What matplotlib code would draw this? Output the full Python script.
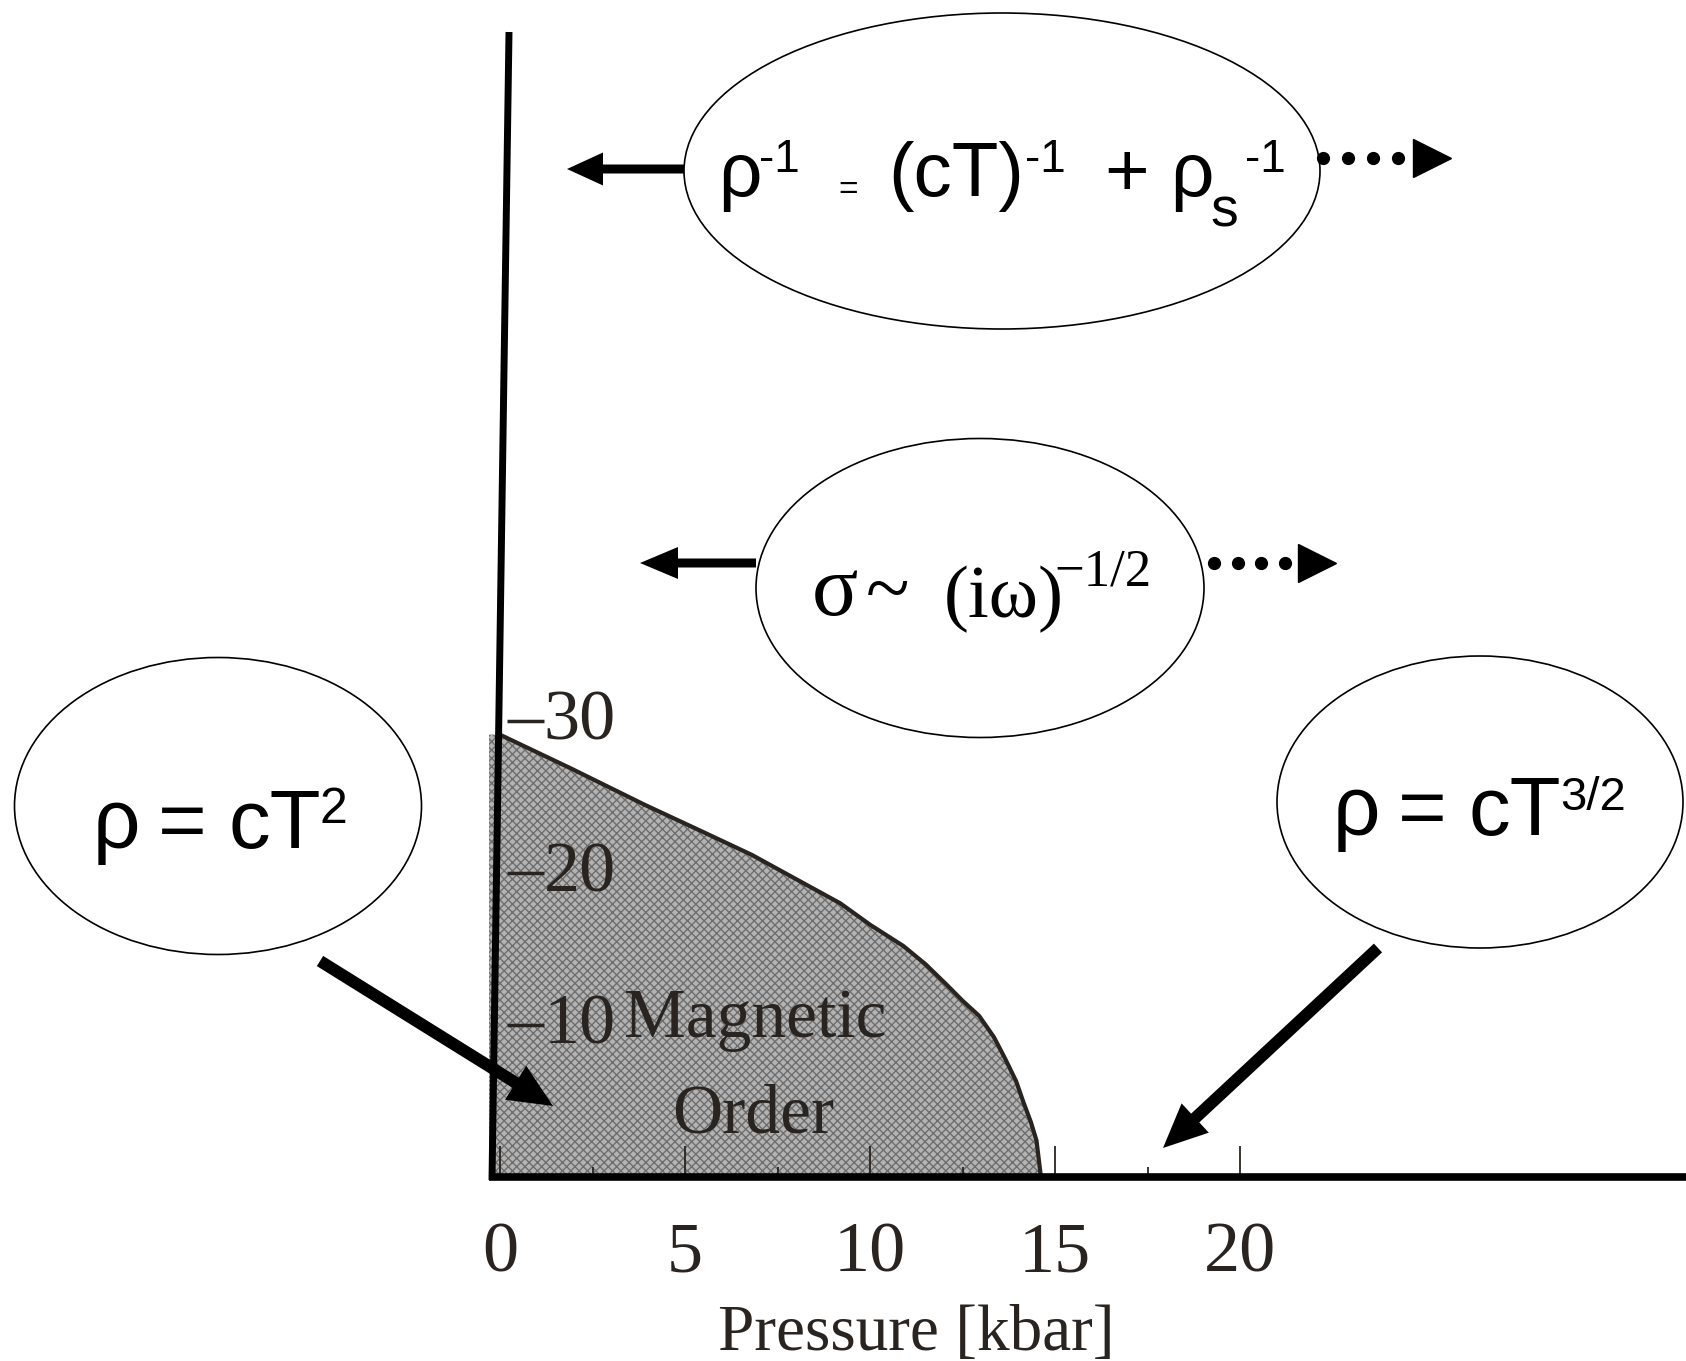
import numpy as np
import matplotlib
matplotlib.use('Agg')
import matplotlib.pyplot as plt
from matplotlib.patches import Ellipse

# phase boundary of the magnetic order
pressure = [0.0, 1.9, 3.9, 5.4, 6.8, 8.0, 9.2, 10.0, 10.9, 11.5, 12.05,
            12.5, 12.95, 13.35, 13.65, 13.95, 14.15, 14.35, 14.5, 14.56, 14.62]
t_order = [29.1, 26.9, 24.5, 22.8, 21.2, 19.6, 18.0, 16.6, 15.2, 14.0, 12.7,
           11.6, 10.6, 9.2, 7.8, 6.3, 4.9, 3.6, 2.4, 1.2, 0.0]
x_ticks = [0, 5, 10, 15, 20]
x_minor = [2.5, 7.5, 12.5, 17.5]
y_ticks = [10, 20, 30]

W, H = 1686, 1361
ink = '#2a2420'
serif = 'Liberation Serif'
sans = 'Liberation Sans'

fig = plt.figure(figsize=(W / 100, H / 100), dpi=100)

# inset: P -> 500 + 37*P px, T -> 1177 - 15.2*T px
p0, p1, t1 = -0.3, 20.0, 33.0
left, right = 500 + 37 * p0, 500 + 37 * p1
bot, top = 1177, 1177 - 15.2 * t1
ax = fig.add_axes([left / W, 1 - bot / H, (right - left) / W, (bot - top) / H])
ax.set_xlim(p0, p1)
ax.set_ylim(0, t1)
for s in ax.spines.values():
    s.set_visible(False)
ax.patch.set_alpha(0)

plt.rcParams['hatch.linewidth'] = 1.0
px = np.r_[p0, pressure]
pt = np.r_[t_order[0], t_order]
ax.fill_between(px, pt, 0, facecolor='#b3b3b3', hatch='xxxx', edgecolor='#6e6e6e', linewidth=0)
ax.plot(pressure, t_order, color=ink, lw=3, solid_joinstyle='round')

ax.set_xticks(x_ticks)
ax.set_xticks(x_minor, minor=True)
ax.set_xticklabels([str(v) for v in x_ticks], family=serif, fontsize=52, color=ink)
ax.tick_params(axis='x', which='major', direction='in', length=22, width=1.3, color=ink, pad=32)
ax.tick_params(axis='x', which='minor', direction='in', length=7, width=1.3, color=ink)
ax.set_yticks([])

ax.hlines(y_ticks, 0.2, 1.2, color=ink, lw=2.5)
for v in y_ticks:
    ax.text(2.15, v - 1.2, str(v), family=serif, fontsize=52, color=ink, ha='center', va='baseline')
ax.text(6.9, 9.2, 'Magnetic', family=serif, fontsize=50, color=ink, ha='center', va='baseline')
ax.text(6.85, 2.9, 'Order', family=serif, fontsize=50, color=ink, ha='center', va='baseline')
ax.text(11.25, -11.4, 'Pressure [kbar]', family=serif, fontsize=47, color=ink, ha='center', va='baseline')

# overlay in pixel units
ov = fig.add_axes([0, 0, 1, 1])
ov.set_xlim(0, W)
ov.set_ylim(H, 0)
ov.axis('off')

ov.plot([509, 492], [32, 1180], color='black', lw=5, solid_capstyle='butt')
ov.plot([489, W], [1177, 1177], color='black', lw=5.5, solid_capstyle='butt')

for (cx, cy, w, h) in [(1002, 171, 636, 316), (980, 588, 448, 299),
                       (218, 806, 407, 297), (1480, 802, 406, 292)]:
    ov.add_patch(Ellipse((cx, cy), w, h, facecolor='white', edgecolor='black', lw=1.2, zorder=2))

arrow_kw = dict(color='black', lw=0, length_includes_head=True, zorder=3)
ov.arrow(684, 169, 567 - 684, 0, width=9, head_width=33, head_length=36, **arrow_kw)
ov.arrow(756, 563, 640 - 756, 0, width=9, head_width=32, head_length=38, **arrow_kw)
ov.arrow(320, 961, 553 - 320, 1106 - 961, width=12, head_width=40, head_length=44, **arrow_kw)
ov.arrow(1378, 948, 1163 - 1378, 1148 - 948, width=12, head_width=40, head_length=44, **arrow_kw)

ov.plot(1323 + 25 * np.arange(4), [158] * 4, 'o', color='black', ms=8.5, zorder=3)
ov.plot(1432, 158, '>', color='black', ms=28, zorder=3)
ov.plot(1214 + 23.5 * np.arange(4), [563] * 4, 'o', color='black', ms=8.5, zorder=3)
ov.plot(1317, 563, '>', color='black', ms=27, zorder=3)


def put(x, y, s, size, family=sans):
    ov.text(x, y, s, fontsize=size, family=family, color='black', ha='left', va='baseline', zorder=4)


# top bubble
put(718, 196, 'ρ', 55)
put(759, 172, '-1', 33)
put(838, 199, '=', 24)
put(888, 196, '(cT)', 55)
put(1025, 172, '-1', 33)
put(1104, 196, '+', 55)
put(1170, 196, 'ρ', 55)
put(1210, 226, 's', 40)
put(1245, 172, '-1', 33)

# middle bubble
put(812, 615, 'σ', 62, serif)
put(866, 615, '~', 58, serif)
put(944, 617, '(iω)', 54, serif)
put(1054, 585, '−1/2', 38, serif)

# left bubble
put(93, 848, 'ρ', 60)
put(158, 848, '=', 60)
put(228, 848, 'cT', 60)
put(320, 823, '2', 36)

# right bubble
put(1333, 835, 'ρ', 60)
put(1398, 835, '=', 60)
put(1468, 835, 'cT', 60)
put(1560, 810, '3/2', 34)

fig.savefig('out.png', dpi=100)
